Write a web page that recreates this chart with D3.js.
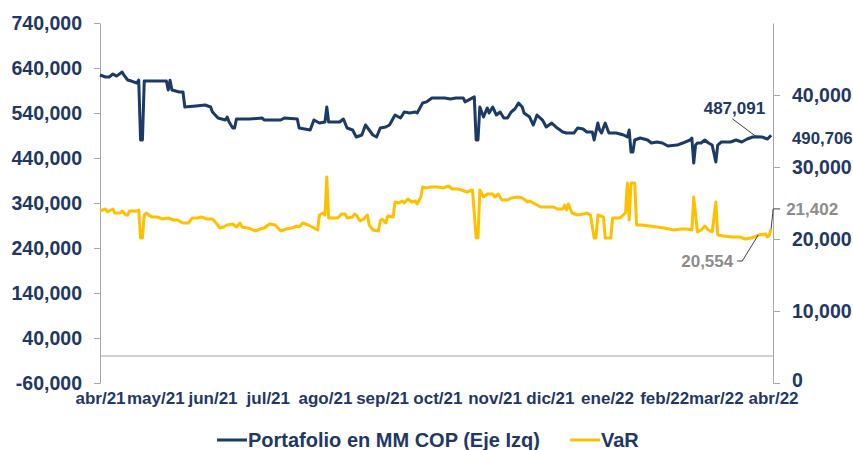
<!DOCTYPE html>
<html>
<head>
<meta charset="utf-8">
<script src="https://cdn.jsdelivr.net/npm/d3@7"></script>
<style>
  body { margin: 0; background: #fff; }
  svg { display: block; font-family: "Liberation Sans", Arial, sans-serif; }
</style>
</head>
<body>
<svg id="chart" width="853" height="450"></svg>
<script>
// ---------- DATA ----------
const startDate = "2021-04-01";
const endDate = "2022-04-01";
const monthLabels = ["abr/21","may/21","jun/21","jul/21","ago/21","sep/21","oct/21","nov/21","dic/21","ene/22","feb/22","mar/22","abr/22"];
const leftTicks = [-60000, 40000, 140000, 240000, 340000, 440000, 540000, 640000, 740000];
const rightTicks = [0, 10000, 20000, 30000, 40000];
const seriesNames = ["Portafolio en MM COP (Eje Izq)", "VaR"];

// days since 2021-04-01
const portDays = [0,3,5,7,9,12,13,15,17,20,21,22,23,24,30,36,37,38,39,43,45,46,52,57,60,61,64,68,69,70,72,73,74,81,88,89,98,100,107,108,114,116,119,122,123,124,130,132,134,137,139,142,144,148,150,152,155,157,160,163,165,168,171,172,175,177,180,187,190,193,197,198,201,203,204,205,206,208,210,211,213,215,217,219,221,223,225,227,229,230,233,235,237,240,242,245,248,251,253,257,259,262,264,267,268,270,271,272,274,276,280,284,286,287,288,289,290,293,297,299,302,305,308,313,316,320,321,322,323,324,326,328,330,332,334,335,337,342,345,348,351,354,356,359,362,364];
const portValues = [624400,620000,620000,626600,622000,631000,624000,613300,611000,606600,613000,480000,480000,611000,611000,611000,591000,613000,591000,586600,586600,553300,555500,557700,553300,542200,528800,524400,531100,520000,506600,506600,526600,526600,528800,524400,524400,528800,526600,506600,502200,524400,517700,520000,553300,520000,520000,526600,506600,502200,486600,491100,513300,491100,486600,506600,508800,513300,535500,528800,542200,540000,542200,540000,562200,564600,573500,573500,571300,573500,573500,564600,571300,575700,480000,480000,553300,531100,551100,540000,553300,535500,542200,528800,528800,542200,548800,562200,553300,540000,531100,513300,535500,524400,508800,517700,506600,497700,495500,495500,506600,504400,497700,497700,480000,517700,502200,495500,517700,495500,495500,491100,486600,502200,453300,453300,480000,484400,480000,473300,475500,473300,466600,468800,473300,480000,484400,428800,468800,473300,473300,480000,473300,468800,431100,468800,475500,475500,480000,475500,482200,486600,487091,486600,482200,490706];

const varDays = [0,3,4,7,8,11,12,14,15,16,20,21,22,23,24,25,28,31,34,37,40,42,45,48,50,53,55,58,61,63,65,67,69,72,74,76,77,80,82,84,87,89,92,95,98,101,104,107,108,110,113,116,118,119,121,122,123,124,126,129,131,133,134,137,138,139,141,143,145,146,148,151,152,153,155,156,159,160,162,164,165,167,169,171,172,174,175,177,179,183,186,189,191,194,196,199,202,204,205,206,208,210,213,214,216,218,221,223,227,229,232,233,235,237,239,242,246,248,251,252,253,254,256,259,262,264,266,268,269,270,273,274,277,278,282,285,286,287,288,290,291,294,298,302,306,311,315,318,321,322,324,326,328,330,332,334,335,338,343,347,350,353,355,357,361,362,363,364];
const varValues = [23900,24170,23750,24170,23610,23610,23890,23330,23330,23890,23890,24030,20140,20140,23330,23610,23060,23060,22780,22920,22640,22640,22220,22220,22920,22920,23060,22780,22780,22220,21530,21670,21940,22080,21670,22220,21670,21530,21390,21110,21390,21530,22080,21940,21110,21390,21530,21810,21670,22220,21940,21530,21250,23330,23610,23330,28610,22920,22920,22920,23470,23470,22920,23060,23470,23330,22500,22780,23330,21940,21250,21110,22500,22780,22220,23190,23060,25140,25000,25280,25000,25560,25140,25280,24860,25830,27220,27080,27220,27220,27080,27360,26940,26940,26810,26530,26810,20140,20140,26810,25830,26250,26250,25830,26250,25420,25420,25690,25830,25690,25140,25280,25000,24720,24440,24440,24440,24170,24170,24720,24030,24860,23610,23330,23470,23610,23330,20140,20140,23330,23060,20140,20140,22920,22920,23610,27780,22640,27780,27780,21940,21940,21810,21670,21530,21250,21390,21390,21250,25830,20970,21250,21810,21250,20970,25140,20560,20420,20280,20280,20000,20140,20280,20554,20690,20280,20560,21402];

// annotations: [day, value]
const portAnnot = [356, 487091];
const portLast = [364, 490706];
const varAnnot = [357, 20554];
const varLast = [364, 21402];

// ---------- CHART ----------
const svg = d3.select("#chart");
const navy = "#1f3864";
const lineNavy = "#1b3a66";
const gold = "#ffc000";
const gray = "#a6a6a6";
const annGray = "#8c8c8c";

const parse = d3.timeParse("%Y-%m-%d");
const t0 = parse(startDate), t1 = parse(endDate);
const dayToDate = d => d3.timeDay.offset(t0, d);

const x = d3.scaleTime().domain([t0, t1]).range([100, 773]);
const yL = d3.scaleLinear().domain([-60000, 740000]).range([383, 23]);
const yR = d3.scaleLinear().domain([0, 50000]).range([383, 23]);
const locale = d3.formatLocale({ decimal: ".", thousands: ",", grouping: [3], currency: ["", ""], minus: "-" });
const fmt = locale.format(",");

// zero line
svg.append("line")
  .attr("x1", x(t0)).attr("x2", x(t1))
  .attr("y1", yL(0)).attr("y2", yL(0))
  .attr("stroke", gray).attr("stroke-width", 1);

// left axis
const gL = svg.append("g").attr("transform", "translate(100,0)")
  .call(d3.axisLeft(yL).tickValues(leftTicks).tickFormat(fmt).tickSize(6).tickSizeOuter(0).tickPadding(12));
// right axis
const gR = svg.append("g").attr("transform", "translate(773,0)")
  .call(d3.axisRight(yR).tickValues(rightTicks).tickFormat(fmt).tickSize(7).tickSizeOuter(0).tickPadding(12));
[gL, gR].forEach(g => {
  g.select(".domain").attr("stroke", gray);
  g.selectAll(".tick line").attr("stroke", gray);
  g.selectAll("text").attr("fill", navy).attr("font-size", "19.5px").attr("font-weight", "bold")
    .attr("font-family", "'Liberation Sans', Arial, sans-serif");
});
gR.selectAll(".tick text").filter(d => d === 0).attr("dy", "0.2em");

// bottom labels
const monthDates = d3.timeMonth.range(t0, d3.timeDay.offset(t1, 1));
const gB = svg.append("g").attr("transform", "translate(0,383)")
  .call(d3.axisBottom(x).tickValues(monthDates).tickFormat((d, i) => monthLabels[i]).tickSize(0).tickPadding(9));
gB.select(".domain").remove();
gB.selectAll("text").attr("fill", navy).attr("font-size", "17px").attr("font-weight", "bold")
  .attr("font-family", "'Liberation Sans', Arial, sans-serif");

// lines
const portData = portDays.map((d, i) => ({ date: dayToDate(d), v: portValues[i] }));
const varData = varDays.map((d, i) => ({ date: dayToDate(d), v: varValues[i] }));

svg.append("path").datum(varData)
  .attr("fill", "none").attr("stroke", gold).attr("stroke-width", 3).attr("stroke-linejoin", "round")
  .attr("d", d3.line().x(d => x(d.date)).y(d => yR(d.v)));
svg.append("path").datum(portData)
  .attr("fill", "none").attr("stroke", lineNavy).attr("stroke-width", 3).attr("stroke-linejoin", "round")
  .attr("d", d3.line().x(d => x(d.date)).y(d => yL(d.v)));

// annotations
const pa = [x(dayToDate(portAnnot[0])), yL(portAnnot[1])];
svg.append("line").attr("x1", pa[0] - 24).attr("y1", pa[1] - 18).attr("x2", pa[0]).attr("y2", pa[1])
  .attr("stroke", "#404040").attr("stroke-width", 1);
svg.append("text").attr("x", pa[0] - 22).attr("y", pa[1] - 23).attr("text-anchor", "middle")
  .attr("fill", navy).attr("font-size", "17px").attr("font-weight", "bold").text(fmt(portAnnot[1]));

const pl = [x(dayToDate(portLast[0])), yL(portLast[1])];
svg.append("text").attr("x", 792).attr("y", pl[1] + 9)
  .attr("fill", navy).attr("font-size", "16.8px").attr("font-weight", "bold").text(fmt(portLast[1]));

const va = [x(dayToDate(varAnnot[0])), yR(varAnnot[1])];
svg.append("path").attr("d", `M${va[0]},${va[1]} L${va[0] - 16},${va[1] + 26} L${va[0] - 21},${va[1] + 26}`)
  .attr("fill", "none").attr("stroke", "#404040").attr("stroke-width", 1);
svg.append("text").attr("x", va[0] - 25).attr("y", va[1] + 32).attr("text-anchor", "end")
  .attr("fill", annGray).attr("font-size", "17px").attr("font-weight", "bold").text(fmt(varAnnot[1]));

const vl = [x(dayToDate(varLast[0])), yR(varLast[1])];
svg.append("path").attr("d", `M${vl[0]},${vl[1]} L${vl[0] + 2},${vl[1] - 20} L${vl[0] + 9},${vl[1] - 20}`)
  .attr("fill", "none").attr("stroke", "#404040").attr("stroke-width", 1);
svg.append("text").attr("x", vl[0] + 15).attr("y", vl[1] - 14)
  .attr("fill", annGray).attr("font-size", "17px").attr("font-weight", "bold").text(fmt(varLast[1]));

// legend
const legend = [
  { name: seriesNames[0], color: lineNavy, x: 217 },
  { name: seriesNames[1], color: gold, x: 570 }
];
legend.forEach(l => {
  svg.append("line").attr("x1", l.x).attr("x2", l.x + 30).attr("y1", 440).attr("y2", 440)
    .attr("stroke", l.color).attr("stroke-width", 3);
  svg.append("text").attr("x", l.x + 31).attr("y", 447)
    .attr("fill", navy).attr("font-size", "20px").attr("font-weight", "bold").text(l.name);
});
</script>
</body>
</html>
